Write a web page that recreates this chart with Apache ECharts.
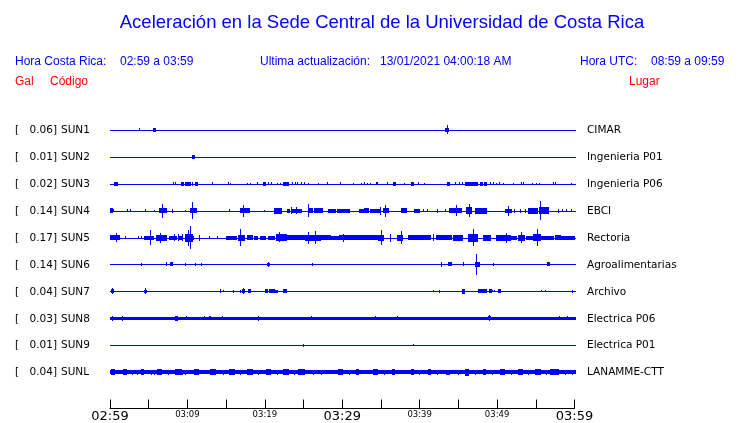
<!DOCTYPE html>
<html><head><meta charset="utf-8">
<script src="https://cdn.jsdelivr.net/npm/echarts@6/dist/echarts.min.js"></script>
<style>html,body{margin:0;padding:0;background:#fff}#c{width:740px;height:423px}</style>
</head><body><div id="c"></div>
<script>
// ---- data ----
const codes = ['SUN1','SUN2','SUN3','SUN4','SUN5','SUN6','SUN7','SUN8','SUN9','SUNL'];
const peaks = ['0.06','0.01','0.02','0.14','0.17','0.14','0.04','0.03','0.01','0.04'];
const places = ['CIMAR','Ingenieria P01','Ingenieria P06','EBCI','Rectoria','Agroalimentarias','Archivo','Electrica P06','Electrica P01','LANAMME-CTT'];
const axisTimes = ['02:59','','03:09','','03:19','','03:29','','03:39','','03:49','','03:59'];
const bigTimes = ['02:59','03:29','03:59'];
// background noise half-amplitude (Gal) per trace
const bands = [0,0,0,0,0,0,0,0.022,0,0.026];
// bursts: [start minute, end minute, half-amplitude Gal]
const sun1 = [[3.8,3.8,0.021],[5.6,5.8,0.029],[43.4,43.8,0.029],[43.6,43.6,0.064]];
const sun2 = [[10.6,10.8,0.029]];
const sun3 = [[0.6,1.0,0.029],[8.2,8.2,0.021],[8.5,8.5,0.021],[9.2,9.4,0.029],[9.8,10.4,0.029],[10.7,10.7,0.029],[11.1,11.3,0.029],[13.3,13.3,0.021],[15.3,15.3,0.021],[15.6,15.6,0.014],[17.8,17.8,0.014],[18.2,18.2,0.014],[19.1,19.1,0.021],[19.8,20.0,0.029],[20.5,20.5,0.021],[20.8,20.8,0.021],[21.7,21.7,0.014],[22.0,22.0,0.014],[22.4,23.0,0.029],[23.6,23.6,0.021],[23.9,23.9,0.021],[24.2,24.2,0.021],[24.8,24.8,0.021],[25.1,25.1,0.021],[25.7,25.7,0.014],[26.9,26.9,0.014],[28.1,28.1,0.021],[29.8,29.8,0.021],[31.4,31.4,0.014],[32.5,32.5,0.014],[32.9,32.9,0.021],[33.2,33.2,0.014],[33.6,33.6,0.014],[34.4,34.5,0.021],[35.9,35.9,0.021],[36.6,36.8,0.029],[38.1,38.1,0.014],[38.9,39.1,0.029],[39.9,39.9,0.021],[40.6,40.6,0.014],[43.6,43.8,0.029],[44.6,44.6,0.021],[45.2,45.2,0.021],[45.5,45.5,0.021],[45.9,47.4,0.029],[47.8,48.0,0.029],[48.4,48.7,0.029],[49.1,49.1,0.021],[49.6,49.6,0.021],[49.9,49.9,0.014],[50.3,50.3,0.021],[50.8,50.8,0.014],[52.1,52.1,0.014],[53.1,53.1,0.021],[53.4,53.4,0.021],[54.6,54.6,0.014],[55.1,55.1,0.014],[55.5,55.5,0.014],[57.3,57.3,0.021],[57.5,57.5,0.021],[59.6,59.6,0.014]];
const sun4 = [[0,0.3,0.036],[0.4,0.4,0.021],[2.2,2.2,0.021],[2.7,2.7,0.021],[4.6,4.6,0.021],[5.8,5.8,0.014],[6.4,7.3,0.036],[6.8,6.8,0.1],[8.1,8.1,0.029],[9.7,9.7,0.014],[10.4,11.2,0.036],[10.6,10.6,0.125],[15.5,15.5,0.021],[16.8,17.9,0.036],[17.2,17.2,0.086],[19.9,19.9,0.014],[21.3,22.2,0.043],[22.9,23.2,0.029],[23.4,23.4,0.05],[23.5,24.1,0.029],[24.1,24.1,0.05],[24.2,24.7,0.029],[25.7,25.7,0.09],[25.8,26.2,0.036],[26.4,26.9,0.036],[27.1,27.5,0.036],[28.2,29.1,0.029],[29.4,31.0,0.029],[32.2,32.7,0.029],[32.9,33.4,0.036],[33.6,34.9,0.029],[35.0,35.0,0.057],[35.3,36.0,0.036],[35.6,35.6,0.086],[37.7,38.3,0.036],[39.3,40.0,0.029],[40.5,40.5,0.021],[41.0,41.0,0.021],[42.3,42.3,0.029],[43.3,43.3,0.021],[43.9,45.4,0.036],[44.7,44.7,0.079],[46.1,46.7,0.05],[46.4,46.4,0.093],[47.2,48.6,0.043],[51.1,51.9,0.029],[51.5,51.5,0.071],[52.3,52.3,0.029],[53.0,53.0,0.029],[53.7,53.7,0.029],[54.0,55.1,0.043],[55.5,56.6,0.05],[55.6,55.6,0.136],[57.9,57.9,0.029],[58.4,58.4,0.021],[59.0,59.0,0.021],[59.6,59.6,0.021]];
const sun5 = [[0,1.1,0.036],[0.8,0.8,0.064],[2.0,2.0,0.021],[3.7,3.7,0.021],[4.1,4.1,0.021],[4.4,5.6,0.029],[5.2,5.2,0.107],[6.0,7.3,0.043],[6.5,6.5,0.071],[7.7,8.6,0.029],[8.3,8.3,0.05],[8.8,9.3,0.029],[8.9,8.9,0.05],[9.4,9.4,0.05],[9.7,10.6,0.057],[10.1,10.1,0.114],[10.4,10.4,0.164],[10.8,10.8,0.029],[11.5,11.5,0.043],[12.8,12.8,0.021],[13.9,13.9,0.021],[15.1,16.4,0.029],[16.6,17.4,0.043],[16.9,16.9,0.121],[17.7,18.3,0.036],[18.7,19.1,0.029],[19.4,20.0,0.029],[20.5,21.3,0.029],[21.5,22.8,0.05],[21.9,21.9,0.075],[22.8,25.2,0.036],[25.2,27.1,0.043],[25.7,25.7,0.086],[26.6,26.6,0.093],[27.3,28.4,0.036],[28.6,29.7,0.029],[29.7,34.7,0.033],[30.2,30.2,0.057],[34.7,35.3,0.043],[35.1,35.1,0.107],[36.2,36.2,0.057],[37.2,37.9,0.043],[37.6,37.6,0.093],[38.5,41.3,0.036],[41.8,41.8,0.05],[42.2,44.1,0.036],[44.4,45.6,0.043],[46.3,47.4,0.057],[46.9,46.9,0.121],[48.2,49.1,0.043],[49.9,51.7,0.043],[51.2,51.2,0.071],[51.9,52.5,0.029],[52.8,53.6,0.043],[53.2,53.2,0.079],[53.8,54.7,0.029],[54.7,55.6,0.05],[55.2,55.2,0.121],[55.6,57.3,0.029],[57.5,58.1,0.036],[58.3,60,0.029]];
const sun6 = [[4.1,4.1,0.021],[7.3,7.3,0.029],[7.8,8.1,0.029],[9.7,9.7,0.021],[11.0,11.0,0.021],[11.8,11.8,0.021],[20.5,20.5,0.036],[20.4,20.6,0.021],[26.1,26.1,0.021],[42.8,42.8,0.036],[43.7,44.1,0.029],[45.7,45.7,0.029],[47.2,47.7,0.036],[47.3,47.3,0.15],[49.5,49.5,0.021],[56.5,56.7,0.029]];
const sun7 = [[0.35,0.35,0.043],[0.2,0.5,0.029],[4.6,4.6,0.043],[4.5,4.7,0.021],[14.3,14.3,0.029],[14.6,14.6,0.014],[16.0,16.0,0.021],[16.9,16.9,0.021],[17.2,17.2,0.043],[17.1,17.3,0.029],[17.9,18.1,0.029],[20.1,20.4,0.029],[20.6,20.9,0.029],[21.0,21.3,0.029],[21.4,21.6,0.021],[22.4,22.8,0.029],[41.8,41.8,0.014],[42.6,42.6,0.021],[45.5,45.7,0.036],[47.6,48.6,0.029],[49.0,49.2,0.029],[49.4,49.4,0.014],[49.7,49.7,0.014],[50.2,50.4,0.029],[55.8,55.8,0.014],[56.2,56.2,0.014],[59.8,59.8,0.021]];
const sun8 = [[0.3,0.3,0.036],[1.6,1.6,0.036],[8.5,8.7,0.036],[9.9,9.9,0.029],[12.2,12.2,0.029],[12.8,12.8,0.029],[13.0,13.0,0.029],[14.5,14.5,0.029],[19.2,19.2,0.036],[26.0,26.0,0.029],[34.3,34.3,0.029],[37.2,37.2,0.029],[49.0,49.0,0.043],[48.9,49.1,0.029],[58.1,58.1,0.029],[59.1,59.1,0.029]];
const sun9 = [[25.0,25.0,0.021],[39.2,39.2,0.014]];
const sunl = [[0.2,0.6,0.04],[1.7,2.1,0.043],[2.9,2.9,0.036],[3.5,3.5,0.036],[4.1,4.4,0.043],[5.4,5.4,0.036],[5.8,5.8,0.036],[6.2,6.7,0.043],[7.5,7.5,0.036],[8.4,9.2,0.043],[9.4,9.4,0.036],[9.7,9.7,0.036],[10.9,11.4,0.043],[13.0,13.7,0.043],[14.6,14.6,0.036],[15.5,16.1,0.043],[16.8,16.8,0.036],[17.7,18.3,0.043],[19.2,19.2,0.036],[20.2,20.7,0.043],[21.7,21.7,0.036],[22.4,23.0,0.043],[23.8,23.8,0.036],[24.4,25.2,0.043],[26.3,26.3,0.036],[27.3,27.3,0.036],[29.5,30.0,0.043],[31.0,31.0,0.036],[31.8,32.1,0.043],[34.1,34.6,0.043],[35.5,35.5,0.036],[36.5,36.8,0.043],[38.9,39.1,0.043],[40.0,40.0,0.036],[41.2,41.5,0.043],[42.3,42.3,0.036],[43.5,43.9,0.036],[45.0,45.0,0.036],[45.9,46.3,0.05],[47.2,47.2,0.036],[48.2,48.5,0.043],[49.4,49.4,0.036],[50.5,51.0,0.043],[51.8,51.8,0.036],[52.8,53.3,0.043],[54.0,54.0,0.036],[54.9,55.5,0.043],[56.4,56.4,0.036],[56.9,57.9,0.043],[58.8,58.8,0.036],[59.8,59.8,0.036]];
const traces = [sun1,sun2,sun3,sun4,sun5,sun6,sun7,sun8,sun9,sunl];

// ---- rendering ----
const ROWS_PER_GAL = 70/27;   // amplitude scale (row spacing units per Gal)
const BLUE = '#0000ff';
const items = [];
traces.forEach((ev,row)=>{
  items.push([row,0,60,0]);
  if (bands[row] > 0) items.push([row,0,60,bands[row]]);
  ev.forEach(e=>items.push([row,e[0],e[1],e[2]]));
});
const rowItems = codes.map((c,i)=>[0,i]);

const chart = echarts.init(document.getElementById('c'), null, {renderer:'canvas'});
const FONT = 'DejaVu Sans';
const TFONT = 'Liberation Sans, Arial';
function txt(x,y,s,color,size,align,family){
  return {type:'text',x:x,y:y,style:{text:s,fill:color,font:size+'px '+(family||TFONT),textAlign:align||'left',textVerticalAlign:'middle'}};
}
chart.setOption({
  animation:false,
  backgroundColor:'#fff',
  grid:{left:110,width:464.5,top:103.5,height:306},
  xAxis:{type:'value',min:0,max:60,interval:5,position:'bottom',
    axisLine:{onZero:false,lineStyle:{color:'#000',width:1}},
    axisTick:{inside:true,length:9,lineStyle:{color:'#000'}},
    splitLine:{show:false},
    axisLabel:{margin:1,showMinLabel:true,showMaxLabel:true,
      formatter:v=>{const s=axisTimes[Math.round(v/5)]||''; if(!s) return ''; return bigTimes.includes(s)?'{b|'+s+'}':'{s|'+s+'}';},
      rich:{b:{fontSize:13,fontFamily:FONT,color:'#000',lineHeight:14},s:{fontSize:8.5,fontFamily:FONT,color:'#000',lineHeight:11}}}},
  yAxis:{type:'value',min:-1,max:10+1/3,inverse:true,show:false},
  graphic:[
    txt(382,23,'Aceleración en la Sede Central de la Universidad de Costa Rica',BLUE,18.5,'center'),
    txt(15,62,'Hora Costa Rica:',BLUE,12),
    txt(120,62,'02:59 a 03:59',BLUE,12),
    txt(260,62,'Ultima actualización:',BLUE,12),
    txt(380,62,'13/01/2021 04:00:18 AM',BLUE,12),
    txt(580,62,'Hora UTC:',BLUE,12),
    txt(651,62,'08:59 a 09:59',BLUE,12),
    txt(15,82,'Gal',"#ff0000",12),
    txt(50,82,'Código',"#ff0000",12),
    txt(629,82,'Lugar',"#ff0000",12)
  ],
  series:[
    {type:'custom',clip:false,silent:true,data:items,
     renderItem:(params,api)=>{
       const row=api.value(0),t0=api.value(1),t1=api.value(2),a=api.value(3);
       const c0=api.coord([t0,row]), c1=api.coord([t1,row]);
       const top=api.coord([t0,row-a*ROWS_PER_GAL])[1];
       const hh=c0[1]-top;
       const x=Math.floor(c0[0]);
       const w=Math.max(1,Math.round(c1[0]-c0[0])+(t1>t0?1:0));
       const y=Math.floor(c0[1]-hh);
       const h=Math.max(1,Math.round(2*hh));
       return {type:'rect',shape:{x:x,y:y,width:w,height:h},style:{fill:BLUE}};
     }},
    {type:'custom',clip:false,silent:true,data:rowItems,
     renderItem:(params,api)=>{
       const i=api.value(1); const y=api.coord([0,i])[1];
       return {type:'group',children:[
         {type:'text',x:15,y:y,style:{text:'[',fill:'#000',font:'10.5px '+FONT,textVerticalAlign:'middle'}},
         {type:'text',x:57,y:y,style:{text:peaks[i]+']',fill:'#000',font:'10.5px '+FONT,textAlign:'right',textVerticalAlign:'middle'}},
         {type:'text',x:61,y:y,style:{text:codes[i],fill:'#000',font:'10.5px '+FONT,textVerticalAlign:'middle'}},
         {type:'text',x:587,y:y,style:{text:places[i],fill:'#000',font:'10.5px '+FONT,textVerticalAlign:'middle'}}
       ]};
     }}
  ]
});
</script></body></html>
